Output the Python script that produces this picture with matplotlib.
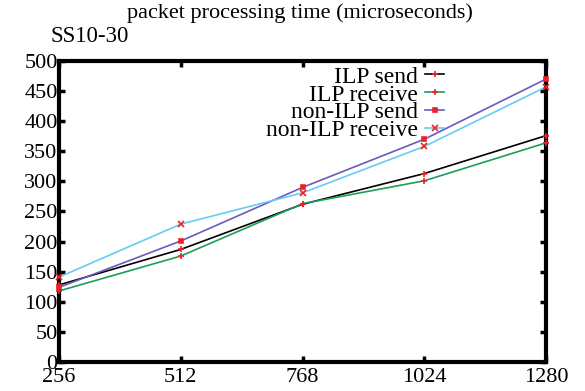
import matplotlib
matplotlib.use("Agg")
import matplotlib.pyplot as plt
from matplotlib.lines import Line2D

plt.rcParams['font.family'] = ['Liberation Serif', 'DejaVu Serif']

packet_sizes = [256, 512, 768, 1024, 1280]
ilp_send = [128, 187, 262, 313, 376]
ilp_receive = [118, 176, 263, 301, 364]
non_ilp_send = [124, 201, 290, 370, 470]
non_ilp_receive = [141, 229, 281, 358, 457]

x_ticks = [256, 512, 768, 1024, 1280]
y_ticks = list(range(0, 501, 50))

series = [
    ("ILP send", ilp_send, "black", "+"),
    ("ILP receive", ilp_receive, "#1a9e5a", "+"),
    ("non-ILP send", non_ilp_send, "#6a5bbd", "s"),
    ("non-ILP receive", non_ilp_receive, "#66ccf2", "x"),
]

fig = plt.figure(figsize=(5.85, 3.91), dpi=100)
ax = fig.add_axes([59 / 585, 1 - 362 / 391, (546 - 59) / 585, (362 - 61) / 391])

handles = []
for label, vals, color, mk in series:
    ax.plot(packet_sizes, vals, color=color, lw=1.2, zorder=2, clip_on=False)
    ms = 3.5 if mk == "s" else 5
    ax.plot(packet_sizes, vals, ls="none", marker=mk, color="#ee2222",
            ms=ms, mew=1.2, zorder=3, clip_on=False)
    handles.append(Line2D([], [], color=color, lw=1.2, marker=mk,
                          markerfacecolor="#ee2222", markeredgecolor="#ee2222",
                          ms=ms, mew=1.2, label=label))

ax.set_xlim(256, 1280)
ax.set_ylim(0, 500)
ax.set_xticks(x_ticks)
ax.set_xticklabels([str(v) for v in x_ticks])
ax.set_yticks(y_ticks)
ax.set_yticklabels([str(v) for v in y_ticks])
ax.tick_params(direction="in", length=4, width=2.5, labelsize=16, pad=1,
               top=True, right=True)
ax.tick_params(axis="x", pad=4)
for sp in ax.spines.values():
    sp.set_linewidth(3)

leg = ax.legend(handles=handles, loc="upper right",
                bbox_to_anchor=((444 - 59) / 487, 1 - (66 - 61) / 301),
                markerfirst=False, frameon=False, fontsize=17, handlelength=0.8,
                handletextpad=0.3, labelspacing=-0.15, borderpad=0,
                borderaxespad=0)

fig.text(300 / 585, 1 - 13 / 391, "packet processing time (microseconds)",
         ha="center", va="center", fontsize=16)
fig.text(50 / 585, 1 - 37 / 391, "SS10-30", ha="left", va="center", fontsize=16.5)

fig.savefig("out.png", dpi=100)
